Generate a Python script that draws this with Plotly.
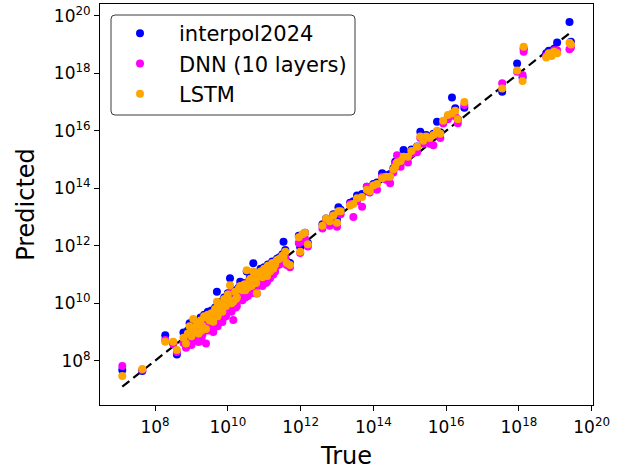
import plotly.graph_objects as go

# log10 of the true values, one entry per sample
true_exp = [
    7.10, 7.65, 8.28, 8.50, 8.60, 8.78,
    8.85, 8.90, 8.95, 9.00, 9.05, 9.10, 9.15, 9.20, 9.25, 9.30,
    9.35, 9.40, 9.45, 9.50, 9.55, 9.60, 9.65, 9.70, 9.75, 9.80,
    9.85, 9.90, 9.95, 10.00, 10.06, 10.10, 10.15, 10.20, 10.25, 10.30,
    10.34, 10.40, 10.45, 10.52, 10.55, 10.60, 10.65, 10.70, 10.75, 10.80,
    10.85, 10.90, 10.95, 11.00, 11.05, 11.10, 11.16, 11.22, 11.30, 11.35,
    11.42, 11.50, 11.53, 11.58, 11.62, 11.71,
    9.02, 9.28, 9.42, 9.58, 9.72, 9.88, 10.05, 10.22, 10.38, 10.48,
    10.62, 10.78, 10.92, 11.08, 11.25,
    11.95, 11.99, 12.05, 12.12, 12.20, 12.60, 12.70, 12.80, 12.90, 13.00,
    13.04, 13.10, 13.36, 13.45, 13.55, 13.69, 13.82, 13.90,
    14.00, 14.10, 14.24, 14.35, 14.46, 14.55, 14.60, 14.65, 14.75, 14.83,
    14.95, 15.05, 15.20, 15.29, 15.37, 15.45, 15.55, 15.65, 15.75, 15.84,
    15.92, 16.05, 16.16, 16.25, 16.32, 16.50,
    17.54, 17.95, 18.10, 18.13, 18.75, 18.82, 18.90, 18.97, 19.05, 19.39,
    19.43,
]

# log10 of the predictions from each model
interp_exp = [
    7.68, 7.64, 8.89, 8.62, 8.22, 8.98,
    8.70, 9.05, 9.30, 8.95, 9.40, 9.15, 9.30, 9.05, 9.50, 9.35,
    9.60, 9.25, 9.70, 9.45, 9.75, 9.50, 9.85, 10.40, 9.80, 10.05,
    9.75, 10.20, 9.95, 10.35, 10.87, 10.10, 10.30, 10.45, 10.30, 10.55,
    10.75, 10.50, 10.70, 11.10, 10.60, 10.85, 10.70, 11.39, 10.90, 10.60,
    11.05, 11.20, 11.00, 11.25, 11.10, 11.35, 11.20, 11.45, 11.40, 11.55,
    11.60, 11.70, 12.14, 11.85, 11.45, 11.40,
    9.20, 9.15, 9.55, 9.70, 9.65, 10.00, 10.20, 10.25, 10.65, 10.55,
    10.95, 10.85, 11.15, 11.05, 11.30,
    12.35, 11.95, 12.30, 12.45, 12.10, 12.75, 12.95, 12.90, 13.10, 12.90,
    13.34, 13.25, 13.50, 13.55, 13.75, 13.80, 14.05, 14.00,
    14.15, 14.20, 14.52, 14.45, 14.50, 14.70, 14.92, 14.90, 14.95, 15.33,
    15.15, 15.35, 15.45, 15.97, 15.70, 15.85, 15.80, 15.90, 16.31, 15.95,
    16.30, 16.50, 17.16, 16.78, 16.40, 16.80,
    17.36, 18.34, 17.85, 18.85, 18.70, 18.78, 18.75, 18.85, 19.07, 19.78,
    19.10,
]

dnn_exp = [
    7.82, 7.68, 8.72, 8.58, 8.30, 8.62,
    8.45, 8.75, 8.90, 8.55, 9.10, 8.70, 9.00, 8.65, 9.20, 8.90,
    9.30, 8.60, 9.35, 9.05, 9.30, 9.00, 9.55, 9.75, 9.40, 9.60,
    9.35, 9.80, 9.55, 9.95, 10.35, 9.70, 9.42, 10.05, 9.90, 10.20,
    10.35, 10.10, 10.40, 10.70, 10.25, 10.45, 10.35, 10.90, 10.55, 10.34,
    10.70, 10.85, 10.60, 10.95, 10.70, 11.05, 10.87, 11.15, 11.10, 11.30,
    11.35, 11.45, 11.55, 11.60, 11.33, 11.25,
    8.80, 8.75, 9.05, 9.10, 9.20, 9.50, 9.75, 9.85, 10.25, 10.20,
    10.60, 10.40, 10.80, 10.75, 11.00,
    12.10, 11.75, 12.15, 12.25, 11.97, 12.60, 12.85, 12.70, 13.05, 12.66,
    13.15, 13.10, 13.45, 13.00, 13.55, 13.36, 14.05, 13.85,
    14.10, 13.95, 14.40, 14.30, 14.17, 14.55, 14.85, 15.15, 14.75, 15.05,
    14.90, 15.20, 15.25, 15.75, 15.55, 15.70, 15.55, 15.50, 15.95, 15.75,
    16.25, 16.40, 16.55, 16.50, 16.26, 16.90,
    17.65, 18.05, 17.94, 18.75, 18.60, 18.65, 18.70, 18.80, 18.80, 18.84,
    18.90,
]

lstm_exp = [
    7.47, 7.71, 8.66, 8.66, 8.37, 8.80,
    8.60, 8.95, 9.20, 8.85, 9.45, 9.00, 9.25, 8.95, 9.40, 9.20,
    9.55, 9.10, 9.60, 9.40, 9.65, 9.36, 9.80, 10.05, 9.70, 9.95,
    9.70, 10.15, 9.90, 10.30, 10.63, 10.00, 10.05, 10.40, 10.20, 10.50,
    10.60, 10.45, 10.65, 11.15, 10.55, 10.80, 10.60, 11.10, 10.85, 10.35,
    11.00, 11.10, 10.90, 11.20, 11.00, 11.30, 11.10, 11.40, 11.35, 11.50,
    11.55, 11.65, 11.60, 11.79, 11.40, 11.33,
    9.10, 9.05, 9.50, 9.55, 9.55, 9.90, 10.10, 10.15, 10.55, 10.45,
    10.85, 10.70, 11.05, 10.95, 11.20,
    12.30, 11.79, 12.40, 12.45, 12.05, 12.70, 12.95, 12.85, 13.05, 12.80,
    13.20, 13.20, 13.40, 13.45, 13.65, 13.70, 13.95, 13.90,
    14.10, 14.15, 14.35, 14.40, 14.40, 14.65, 14.75, 14.90, 14.95, 15.10,
    15.10, 15.30, 15.44, 15.80, 15.65, 15.80, 15.75, 15.85, 16.00, 15.90,
    16.35, 16.55, 16.60, 16.70, 16.40, 17.00,
    17.47, 18.10, 17.73, 18.92, 18.55, 18.70, 18.60, 18.75, 18.70, 19.06,
    19.00,
]

tick_exps = [8, 10, 12, 14, 16, 18, 20]
tick_labels = [f"10<sup>{e}</sup>" for e in tick_exps]

true_vals = [10.0 ** v for v in true_exp]
series = [
    ("interpol2024", interp_exp, "#0000ff"),
    ("DNN (10 layers)", dnn_exp, "#ff00ff"),
    ("LSTM", lstm_exp, "#ffa500"),
]

W, H = 627, 470
L, R, T, B = 100, 34, 4, 65
pw, ph = W - L - R, H - T - B

fig = go.Figure()

# identity reference line spanning the data
lo, hi = min(true_vals), max(true_vals)
fig.add_trace(go.Scatter(
    x=[lo, hi], y=[lo, hi], mode="lines",
    line=dict(color="black", width=2.2, dash="9px,5px"),
    showlegend=False, hoverinfo="skip",
))

for name, exps, color in series:
    fig.add_trace(go.Scatter(
        x=true_vals, y=[10.0 ** v for v in exps], mode="markers", name=name,
        marker=dict(color=color, size=8, line=dict(width=0)),
    ))

axis_common = dict(
    type="log", showgrid=False, zeroline=False,
    showline=True, linecolor="black", linewidth=1, mirror=True,
    ticks="outside", ticklen=5, tickwidth=1, tickcolor="black",
    tickvals=[10.0 ** e for e in tick_exps], ticktext=tick_labels,
    tickfont=dict(family="DejaVu Sans", size=17, color="black"),
)

fig.update_xaxes(
    range=[6.487, 20.036],
    title=dict(text="True", font=dict(family="DejaVu Sans", size=24, color="black"), standoff=10),
    ticklabelstandoff=2,
    **axis_common,
)
fig.update_yaxes(
    range=[6.46, 20.41],
    title=dict(text="Predicted", font=dict(family="DejaVu Sans", size=24, color="black"), standoff=12),
    **axis_common,
)


def px_to_paper(x, y):
    return (x - L) / pw, 1 - (y - T) / ph


# rounded legend frame
x0, y0 = px_to_paper(111, 15)
x1, y1 = px_to_paper(355, 115)
rx, ry = 4 / pw, 4 / ph
frame = (
    f"M {x0 + rx},{y0} L {x1 - rx},{y0} Q {x1},{y0} {x1},{y0 - ry} "
    f"L {x1},{y1 + ry} Q {x1},{y1} {x1 - rx},{y1} "
    f"L {x0 + rx},{y1} Q {x0},{y1} {x0},{y1 + ry} "
    f"L {x0},{y0 - ry} Q {x0},{y0} {x0 + rx},{y0} Z"
)
fig.add_shape(type="path", path=frame, xref="paper", yref="paper",
              line=dict(color="#3a3a3a", width=1), fillcolor="rgba(255,255,255,0.8)",
              layer="above")

lx, ly = px_to_paper(101, 13)
fig.update_layout(
    width=W, height=H,
    margin=dict(l=L, r=R, t=T, b=B),
    paper_bgcolor="white", plot_bgcolor="white",
    font=dict(family="DejaVu Sans", color="black"),
    legend=dict(
        x=lx, y=ly, xanchor="left", yanchor="top",
        bgcolor="rgba(0,0,0,0)", borderwidth=0,
        font=dict(family="DejaVu Sans", size=21, color="black"),
        itemsizing="trace", itemwidth=68,
    ),
)

fig.write_html("out.html")
